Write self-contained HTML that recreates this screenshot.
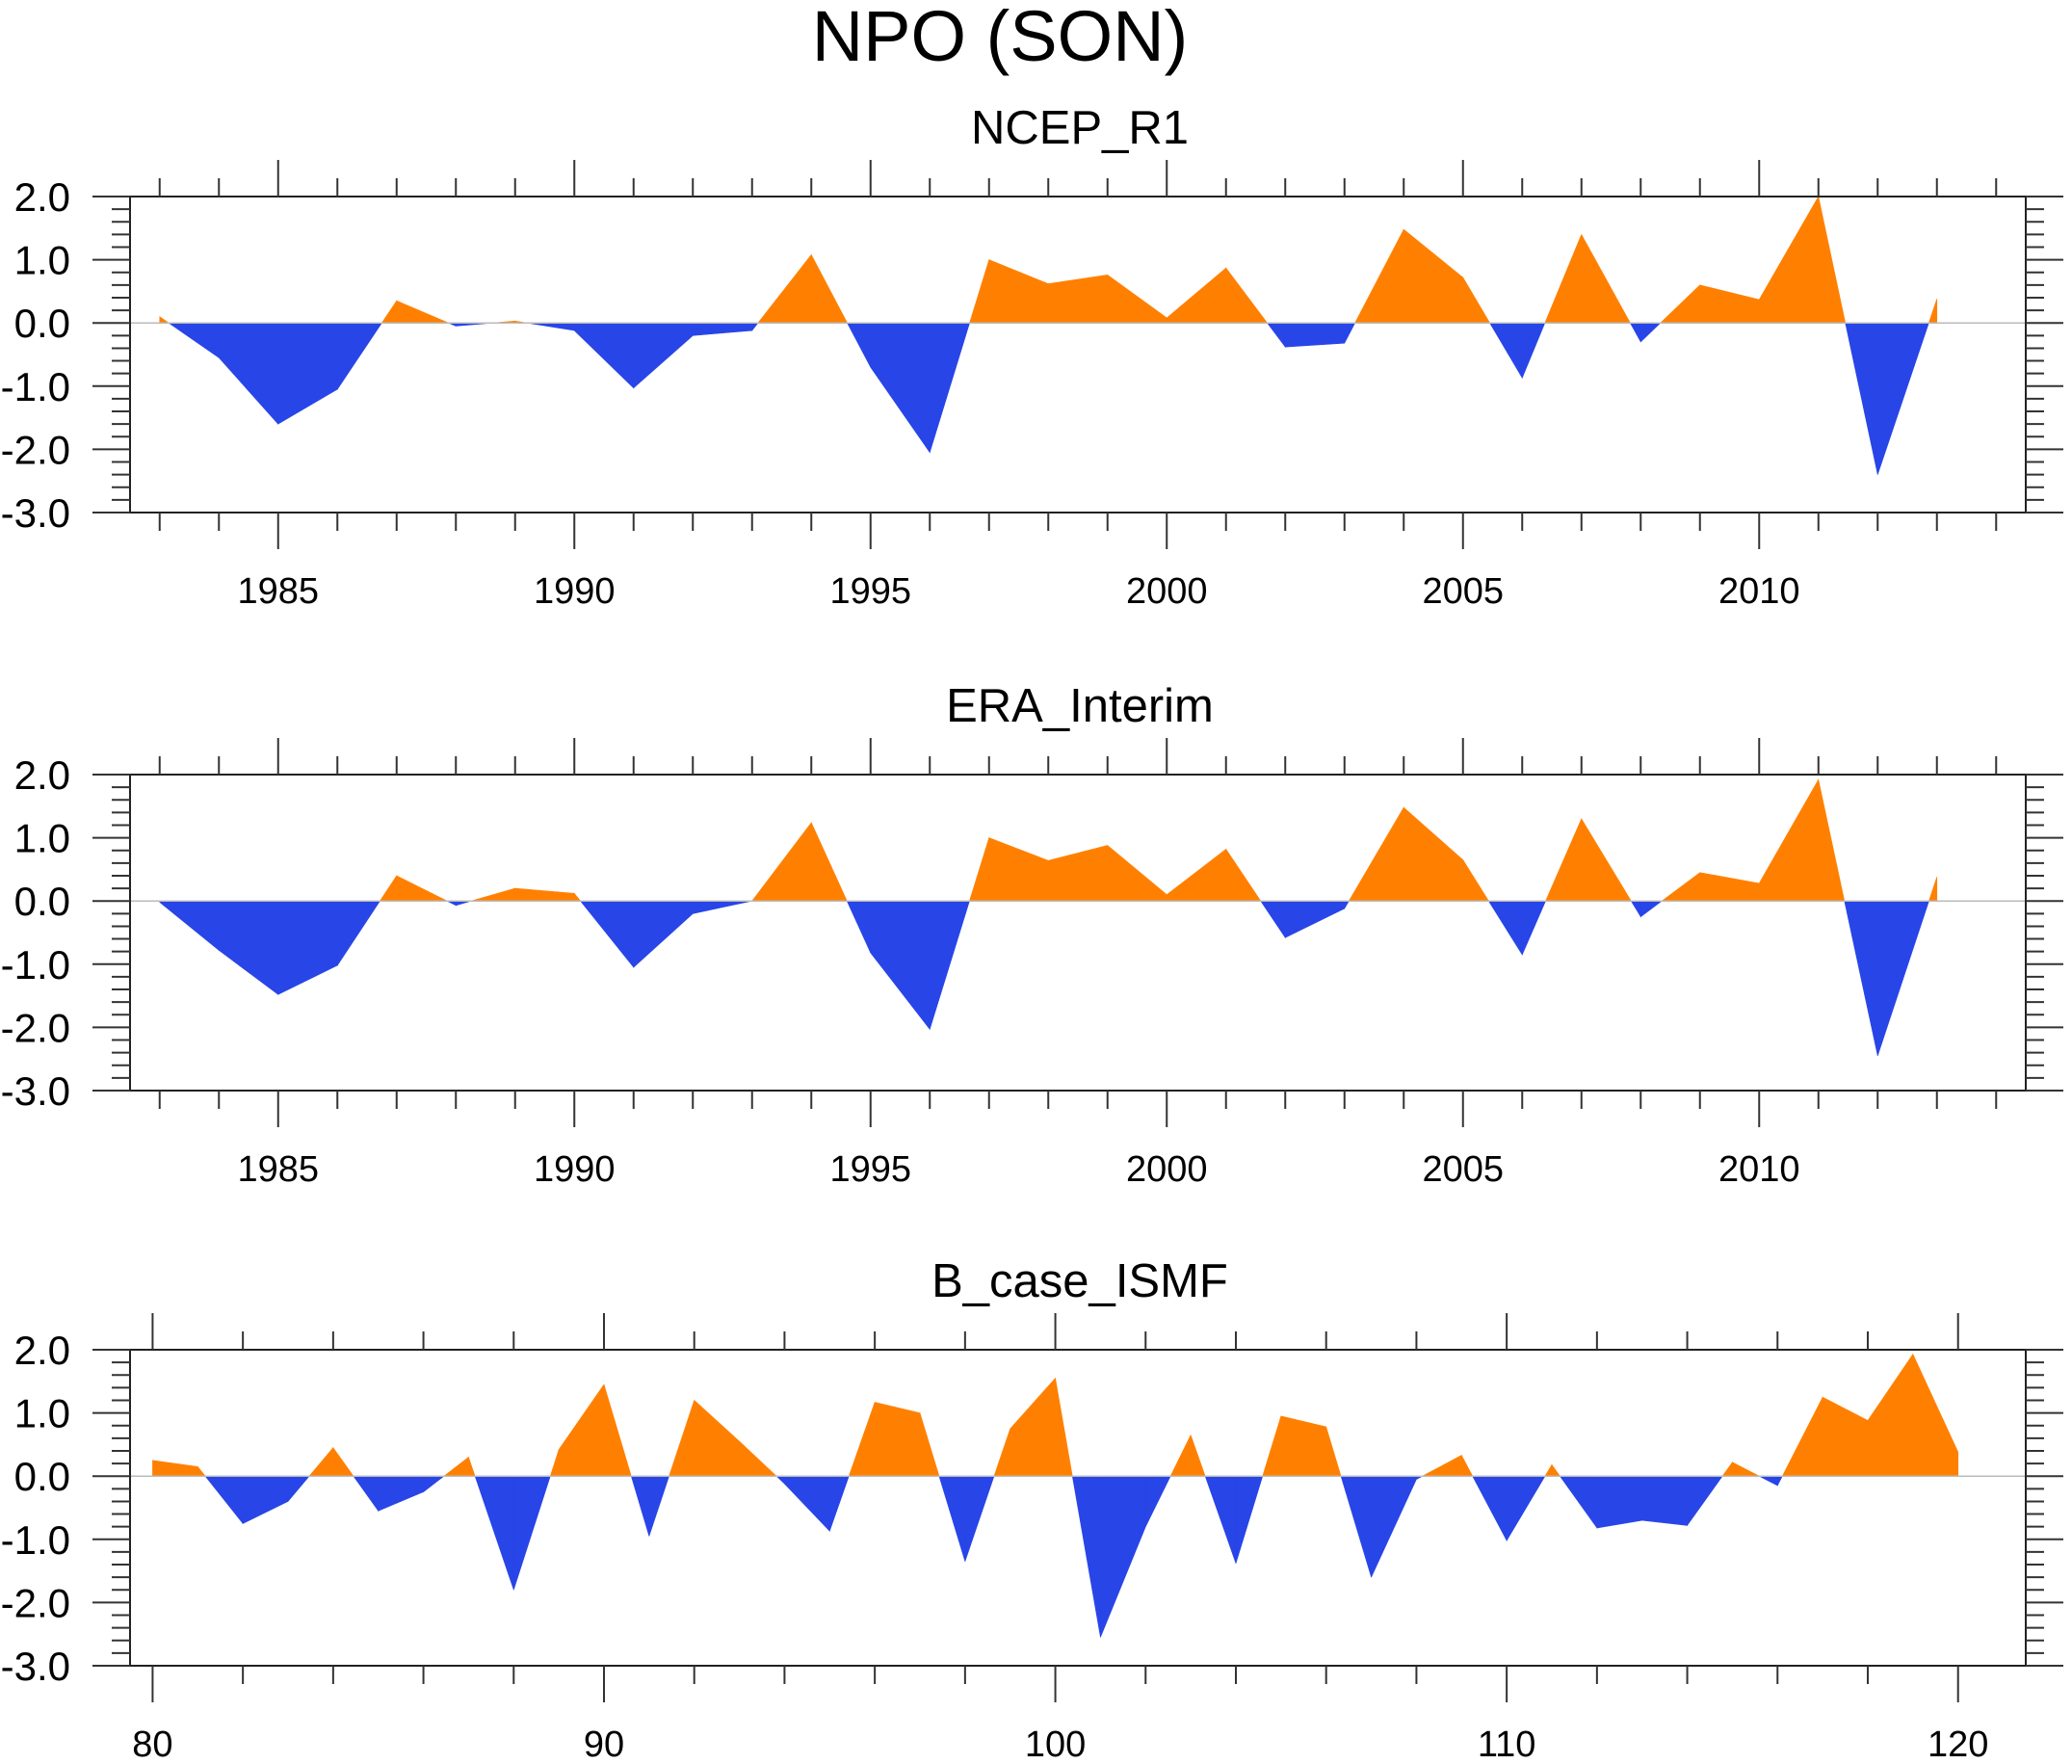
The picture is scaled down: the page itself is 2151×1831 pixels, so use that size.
<!DOCTYPE html>
<html><head><meta charset="utf-8"><style>
html,body{margin:0;padding:0;background:#fff;}
svg{display:block;font-family:"Liberation Sans",sans-serif;}
</style></head><body>
<svg id="fig" width="2151" height="1831" viewBox="0 0 2151 1831" xmlns="http://www.w3.org/2000/svg">
<text x="1038" y="63" font-size="74" text-anchor="middle">NPO (SON)</text>
</svg>
<script>
const years = [1983,1984,1985,1986,1987,1988,1989,1990,1991,1992,1993,1994,1995,1996,1997,1998,1999,2000,2001,2002,2003,2004,2005,2006,2007,2008,2009,2010,2011,2012,2013];
const ncepValues = [0.1,-0.55,-1.6,-1.05,0.35,-0.05,0.03,-0.12,-1.03,-0.2,-0.12,1.08,-0.7,-2.05,1.0,0.62,0.76,0.08,0.87,-0.38,-0.32,1.48,0.72,-0.87,1.4,-0.3,0.6,0.37,2.0,-2.4,0.38];
const eraValues = [-0.02,-0.78,-1.48,-1.02,0.4,-0.07,0.2,0.12,-1.05,-0.2,0.0,1.24,-0.82,-2.03,1.0,0.64,0.88,0.1,0.82,-0.58,-0.12,1.48,0.65,-0.85,1.3,-0.25,0.45,0.28,1.92,-2.45,0.38];
const modelYears = [80,81,82,83,84,85,86,87,88,89,90,91,92,93,94,95,96,97,98,99,100,101,102,103,104,105,106,107,108,109,110,111,112,113,114,115,116,117,118,119,120];
const modelValues = [0.25,0.15,-0.75,-0.4,0.45,-0.55,-0.25,0.3,-1.8,0.42,1.45,-0.95,1.2,0.55,-0.12,-0.87,1.17,1.0,-1.35,0.75,1.55,-2.55,-0.8,0.65,-1.38,0.95,0.78,-1.6,-0.05,0.33,-1.02,0.18,-0.82,-0.7,-0.78,0.22,-0.15,1.25,0.88,1.93,0.38];
const yTicks = [2.0,1.0,0.0,-1.0,-2.0,-3.0];
const yearTickLabels = [1985,1990,1995,2000,2005,2010];
const modelTickLabels = [80,90,100,110,120];

const svg = document.getElementById('fig');
const NS = 'http://www.w3.org/2000/svg';
function mk(tag, attrs, parent){const e=document.createElementNS(NS,tag);for(const k in attrs)e.setAttribute(k,attrs[k]);(parent||svg).appendChild(e);return e;}

const L=135,R=2103,H=328;
function panel(cfg){
  const top=cfg.top,bot=top+H;
  const g=mk('g',{});
  
  
  const xs=v=>L+(v-cfg.x0)/(cfg.x1-cfg.x0)*(R-L);
  const ys=v=>bot-(v-(-3))/5*H;
  const y0=ys(0);
  const xv=cfg.xv,vv=cfg.vv;
  for(let i=0;i<xv.length-1;i++){
    const xa=xs(xv[i]),xb=xs(xv[i+1]),va=vv[i],vb=vv[i+1];
    const segs=[];
    if((va>=0&&vb>=0)||(va<=0&&vb<=0)){segs.push([xa,va,xb,vb]);}
    else{const t=va/(va-vb);const xc=xa+t*(xb-xa);segs.push([xa,va,xc,0]);segs.push([xc,0,xb,vb]);}
    segs.forEach(s=>{
      const pos=(s[1]+s[3])>0;
      const p=mk('polygon',{points:`${s[0]},${y0} ${s[0]},${ys(s[1])} ${s[2]},${ys(s[3])} ${s[2]},${y0}`,fill:pos?'#ff8000':'#2845e8',stroke:pos?'#ff8000':'#2845e8','stroke-width':0.6},g);
      
      
    });
  }
  const zl=mk('line',{x1:L,x2:R,y1:y0,y2:y0,stroke:'#bbb','stroke-width':1.5},g);
  
  
  const fr=mk('rect',{x:L,y:top,width:R-L,height:H,fill:'none',stroke:'#222','stroke-width':2},g);
  
  
  for(let k=0;k<=25;k++){
    const v=-3+k*0.2,y=ys(v),maj=k%5===0,len=maj?39:19;
    mk('line',{x1:L-len,x2:L,y1:y,y2:y,stroke:'#333','stroke-width':2},g);
    mk('line',{x1:R,x2:R+len,y1:y,y2:y,stroke:'#333','stroke-width':2},g);
  }
  yTicks.forEach(v=>{
    const t=mk('text',{x:73,y:ys(v)+15,'font-size':42,'text-anchor':'end'},g);
    t.textContent=v.toFixed(1);
    
    
  });
  for(let v=cfg.tStart;v<=cfg.x1;v+=cfg.minor){
    const x=xs(v),maj=(v%cfg.major)===0,len=maj?38:19;
    mk('line',{x1:x,x2:x,y1:top-len,y2:top,stroke:'#333','stroke-width':2},g);
    mk('line',{x1:x,x2:x,y1:bot,y2:bot+len,stroke:'#333','stroke-width':2},g);
  }
  cfg.labels.forEach(v=>{
    const t=mk('text',{x:xs(v),y:bot+94,'font-size':38,'text-anchor':'middle'},g);
    t.textContent=v;
    
    
  });
  const st=mk('text',{x:1121,y:top-55,'font-size':49,'text-anchor':'middle'},g);
  st.textContent=cfg.title;
  
  
}
panel({name:'ncep-r1-panel',title:'NCEP_R1',top:204,x0:1982.5,x1:2014.5,xv:years,vv:ncepValues,tStart:1983,minor:1,major:5,labels:yearTickLabels});
panel({name:'era-interim-panel',title:'ERA_Interim',top:804,x0:1982.5,x1:2014.5,xv:years,vv:eraValues,tStart:1983,minor:1,major:5,labels:yearTickLabels});
panel({name:'b-case-ismf-panel',title:'B_case_ISMF',top:1401,x0:79.5,x1:121.5,xv:modelYears,vv:modelValues,tStart:80,minor:2,major:10,labels:modelTickLabels});
</script>
</body></html>
